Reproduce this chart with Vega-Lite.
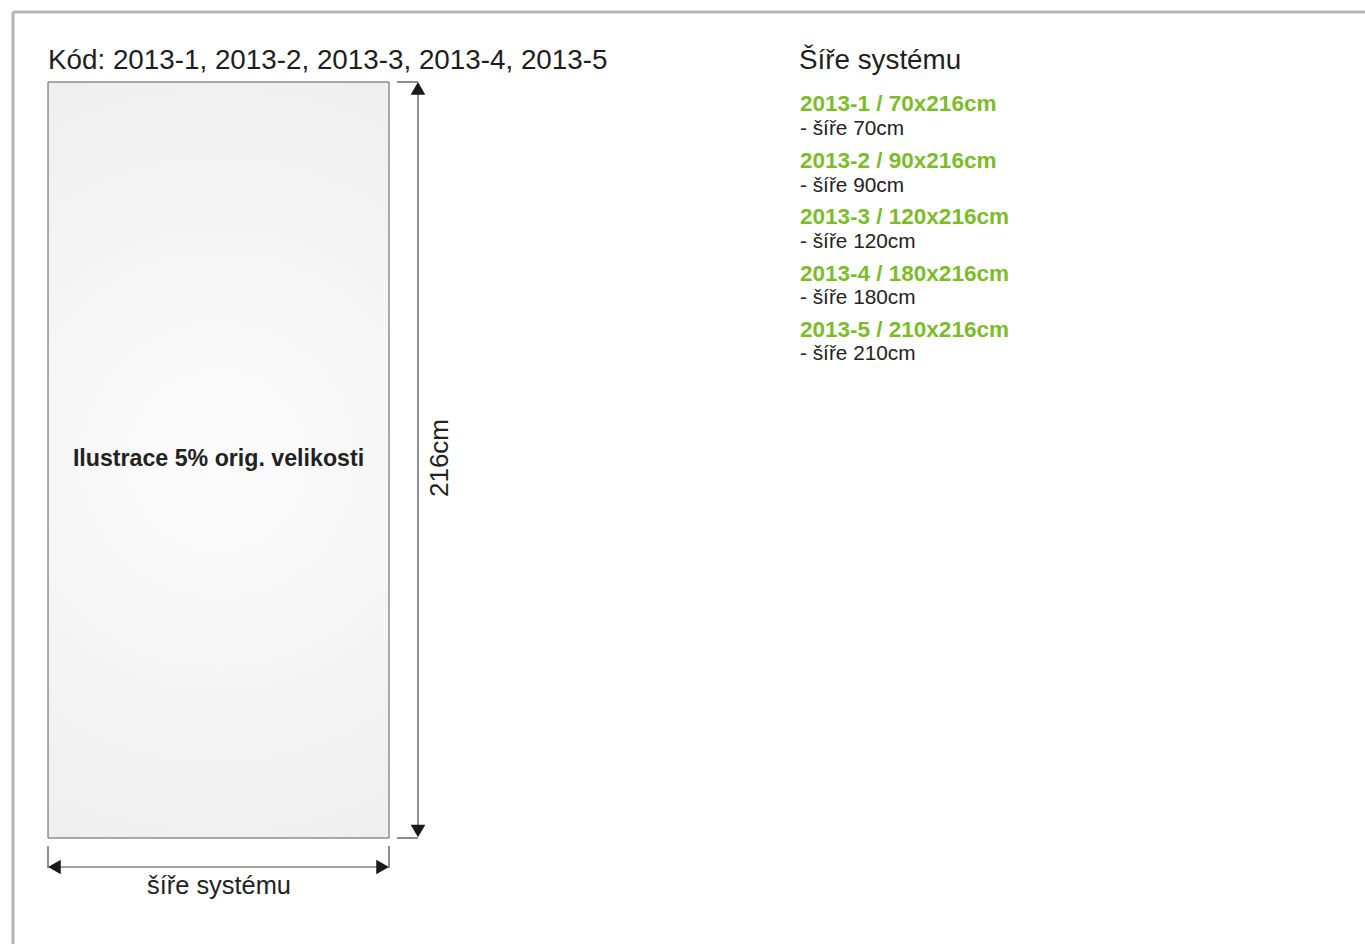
{
  "$schema": "https://vega.github.io/schema/vega-lite/v6.json",
  "width": 1365,
  "height": 944,
  "autosize": {"type": "none"},
  "padding": 0,
  "background": "#ffffff",
  "config": {"view": {"stroke": null}, "text": {"font": "Liberation Sans"}},
  "datasets": {
    "frame": [{"x": 13, "y": 12, "x2": 1365, "y2": 12}, {"x": 13, "y": 12, "x2": 13, "y2": 944}],
    "panel": [{"x": 48, "y": 82, "x2": 389, "y2": 838}],
    "dimlines": [
      {"x": 418, "y": 90, "x2": 418, "y2": 830},
      {"x": 397, "y": 82, "x2": 418, "y2": 82},
      {"x": 397, "y": 838, "x2": 418, "y2": 838},
      {"x": 56, "y": 867, "x2": 381, "y2": 867},
      {"x": 48, "y": 846, "x2": 48, "y2": 868},
      {"x": 389, "y": 846, "x2": 389, "y2": 868}
    ],
    "arrowUp": [{"x": 418, "y": 88.4}],
    "arrowDown": [{"x": 418, "y": 831}],
    "arrowLeft": [{"x": 54.4, "y": 867}],
    "arrowRight": [{"x": 382.6, "y": 867}],
    "headings": [
      {"x": 48, "y": 69, "label": "Kód: 2013-1, 2013-2, 2013-3, 2013-4, 2013-5"},
      {"x": 799, "y": 69, "label": "Šíře systému"}
    ],
    "codes": [
      {"x": 800, "y": 111, "label": "2013-1 / 70x216cm"},
      {"x": 800, "y": 168, "label": "2013-2 / 90x216cm"},
      {"x": 800, "y": 224, "label": "2013-3 / 120x216cm"},
      {"x": 800, "y": 281, "label": "2013-4 / 180x216cm"},
      {"x": 800, "y": 337, "label": "2013-5 / 210x216cm"}
    ],
    "widths": [
      {"x": 800, "y": 135, "label": "- šíře 70cm"},
      {"x": 800, "y": 192, "label": "- šíře 90cm"},
      {"x": 800, "y": 248, "label": "- šíře 120cm"},
      {"x": 800, "y": 304, "label": "- šíře 180cm"},
      {"x": 800, "y": 360, "label": "- šíře 210cm"}
    ],
    "centerLabel": [{"x": 218.5, "y": 466, "label": "Ilustrace 5% orig. velikosti"}],
    "widthLabel": [{"x": 219, "y": 894, "label": "šíře systému"}],
    "heightLabel": [{"x": 440, "y": 458, "label": "216cm"}]
  },
  "encoding": {
    "x": {"field": "x", "type": "quantitative", "scale": {"domain": [0, 1365], "nice": false, "zero": false}, "axis": null},
    "y": {"field": "y", "type": "quantitative", "scale": {"domain": [0, 944], "nice": false, "zero": false, "reverse": true}, "axis": null}
  },
  "layer": [
    {
      "data": {"name": "frame"},
      "mark": {"type": "rule", "color": "#b4b4b4", "strokeWidth": 3},
      "encoding": {"x2": {"field": "x2"}, "y2": {"field": "y2"}}
    },
    {
      "data": {"name": "panel"},
      "mark": {
        "type": "rect",
        "stroke": "#5a5a5a",
        "strokeWidth": 1,
        "fill": {
          "gradient": "radial",
          "x1": 0.5, "y1": 0.5, "r1": 0,
          "x2": 0.5, "y2": 0.5, "r2": 0.7,
          "stops": [{"offset": 0, "color": "#fcfcfc"}, {"offset": 1, "color": "#ebebeb"}]
        }
      },
      "encoding": {"x2": {"field": "x2"}, "y2": {"field": "y2"}}
    },
    {
      "data": {"name": "dimlines"},
      "mark": {"type": "rule", "color": "#444444", "strokeWidth": 1.2},
      "encoding": {"x2": {"field": "x2"}, "y2": {"field": "y2"}}
    },
    {
      "data": {"name": "arrowUp"},
      "mark": {"type": "point", "shape": "triangle-up", "filled": true, "color": "#1a1a1a", "size": 215, "opacity": 1}
    },
    {
      "data": {"name": "arrowDown"},
      "mark": {"type": "point", "shape": "triangle-down", "filled": true, "color": "#1a1a1a", "size": 215, "opacity": 1}
    },
    {
      "data": {"name": "arrowLeft"},
      "mark": {"type": "point", "shape": "triangle-left", "filled": true, "color": "#1a1a1a", "size": 215, "opacity": 1}
    },
    {
      "data": {"name": "arrowRight"},
      "mark": {"type": "point", "shape": "triangle-right", "filled": true, "color": "#1a1a1a", "size": 215, "opacity": 1}
    },
    {
      "data": {"name": "headings"},
      "mark": {"type": "text", "align": "left", "baseline": "alphabetic", "fontSize": 27.8, "color": "#1e1e1e"},
      "encoding": {"text": {"field": "label"}}
    },
    {
      "data": {"name": "codes"},
      "mark": {"type": "text", "align": "left", "baseline": "alphabetic", "fontSize": 22.5, "fontWeight": "bold", "color": "#7cbc2a"},
      "encoding": {"text": {"field": "label"}}
    },
    {
      "data": {"name": "widths"},
      "mark": {"type": "text", "align": "left", "baseline": "alphabetic", "fontSize": 20.8, "color": "#222222"},
      "encoding": {"text": {"field": "label"}}
    },
    {
      "data": {"name": "centerLabel"},
      "mark": {"type": "text", "align": "center", "baseline": "alphabetic", "fontSize": 23.2, "fontWeight": "bold", "color": "#222222"},
      "encoding": {"text": {"field": "label"}}
    },
    {
      "data": {"name": "widthLabel"},
      "mark": {"type": "text", "align": "center", "baseline": "alphabetic", "fontSize": 25.4, "color": "#222222"},
      "encoding": {"text": {"field": "label"}}
    },
    {
      "data": {"name": "heightLabel"},
      "mark": {"type": "text", "align": "center", "baseline": "middle", "angle": 270, "fontSize": 26, "color": "#222222"},
      "encoding": {"text": {"field": "label"}}
    }
  ]
}
